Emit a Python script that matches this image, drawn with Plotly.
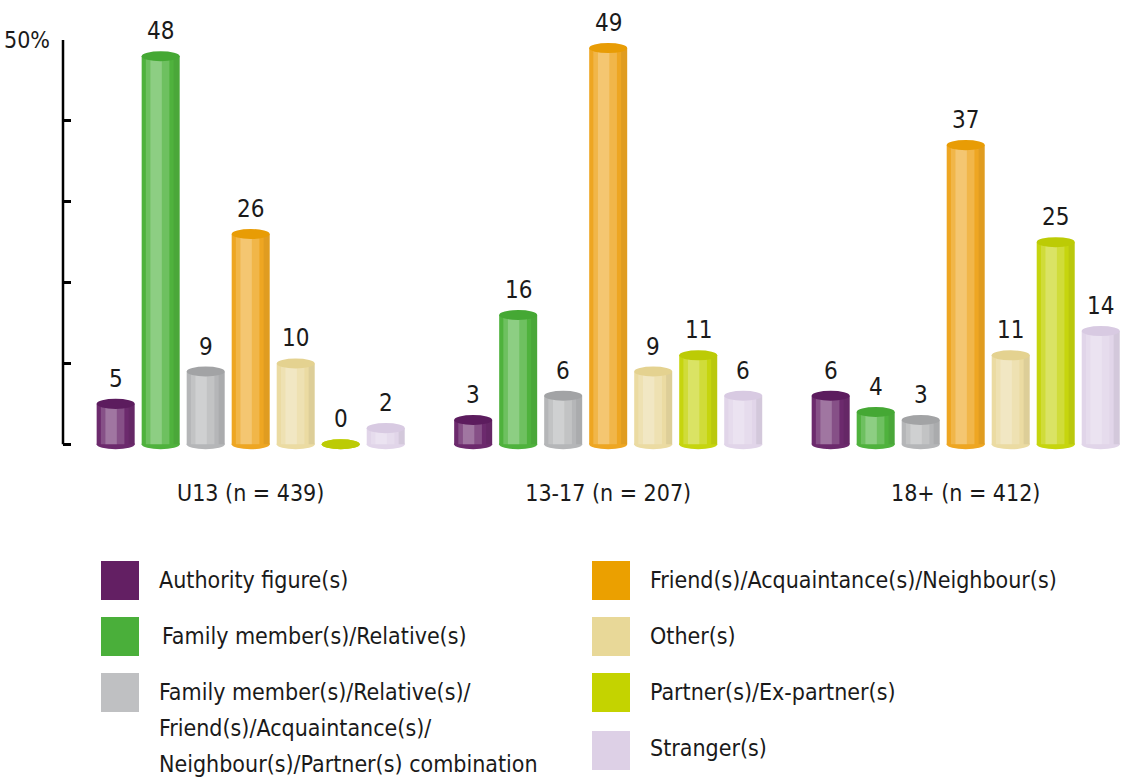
import plotly.graph_objects as go

# ---------------- data ----------------
groups = ["U13 (n = 439)", "13-17 (n = 207)", "18+ (n = 412)"]
series = [
    "Authority figure(s)",
    "Family member(s)/Relative(s)",
    "Family member(s)/Relative(s)/<br>Friend(s)/Acquaintance(s)/<br>Neighbour(s)/Partner(s) combination",
    "Friend(s)/Acquaintance(s)/Neighbour(s)",
    "Other(s)",
    "Partner(s)/Ex-partner(s)",
    "Stranger(s)",
]
authority = [5, 3, 6]
family = [48, 16, 4]
combination = [9, 6, 3]
friend = [26, 49, 37]
other = [10, 9, 11]
partner = [0, 11, 25]
stranger = [2, 6, 14]
values = [authority, family, combination, friend, other, partner, stranger]

y_tickvals = [0, 10, 20, 30, 40, 50]
y_ticktext = ["", "", "", "", "", "50%"]

# ---------------- style ----------------
body_colors = ["#6c2a6d", "#4fb23d", "#b5b6b8", "#eea622", "#ebdba2", "#c6d50e", "#e1d5e9"]
top_colors = ["#5c1c5e", "#45a834", "#a2a3a5", "#e89c05", "#e4d290", "#bccb05", "#d8cae2"]
swatch_colors = ["#631f63", "#4aaf3a", "#bfc0c2", "#eba000", "#e8d898", "#c4d300", "#ddd0e6"]

FONT = "DejaVu Sans Condensed, Open Sans, sans-serif"
TXT = "#1a1a1a"
W, H = 1129, 781
ML, MR, MT, MB = 63, 4, 40, 327
PW = W - ML - MR
PH = H - MT - MB

n = len(series)
pitch = 0.1259
bw = 0.1063
ell = 0.62  # half-height of ellipse caps, in data units

fig = go.Figure()
shapes = []
annotations = []

for i, (name, vals) in enumerate(zip(series, values)):
    off = (i - (n - 1) / 2) * pitch
    xs = [g + off for g in range(len(groups))]
    fig.add_trace(go.Bar(
        x=xs, y=vals, width=bw, name=name.replace("<br>", ""),
        marker=dict(color=body_colors[i], line=dict(width=0)),
        showlegend=False, hoverinfo="y",
    ))
    # soft highlight strips to give a cylinder look
    fig.add_trace(go.Bar(
        x=[x - 0.08 * bw for x in xs], y=vals, width=bw * 0.62,
        marker=dict(color="rgba(255,255,255,0.18)", line=dict(width=0)),
        showlegend=False, hoverinfo="skip",
    ))
    fig.add_trace(go.Bar(
        x=[x - 0.12 * bw for x in xs], y=vals, width=bw * 0.30,
        marker=dict(color="rgba(255,255,255,0.22)", line=dict(width=0)),
        showlegend=False, hoverinfo="skip",
    ))
    fig.add_trace(go.Bar(
        x=[x + 0.42 * bw for x in xs], y=vals, width=bw * 0.16,
        marker=dict(color="rgba(0,0,0,0.06)", line=dict(width=0)),
        showlegend=False, hoverinfo="skip",
    ))
    for x, v in zip(xs, vals):
        # bottom cap
        shapes.append(dict(type="circle", xref="x", yref="y", layer="below",
                           x0=x - bw / 2, x1=x + bw / 2, y0=-ell, y1=ell,
                           fillcolor=body_colors[i], line=dict(width=0)))
        # top cap
        shapes.append(dict(type="circle", xref="x", yref="y",
                           x0=x - bw / 2, x1=x + bw / 2, y0=v - ell, y1=v + ell,
                           fillcolor=top_colors[i], line=dict(width=0)))
        annotations.append(dict(x=x, y=v, xref="x", yref="y", text=str(v),
                                showarrow=False, yanchor="bottom", yshift=9,
                                font=dict(family=FONT, size=24, color=TXT)))

# y axis line (0 to 50)
shapes.append(dict(type="line", xref="paper", yref="y", x0=0, x1=0, y0=0, y1=50,
                   line=dict(color="black", width=2.5)))


def px(xp):
    return (xp - ML) / PW


def py(yp):
    return (H - MB - yp) / PH


# legend built manually
legend_items = [
    # (series index, swatch x-left, swatch y-top, text x, text lines y)
    (0, 101, 561, 157, [580]),
    (1, 101, 617, 160, [636]),
    (2, 101, 673, 157, [692, 728, 764]),
    (3, 592, 561, 648, [580]),
    (4, 592, 617, 648, [636]),
    (5, 592, 673, 648, [692]),
    (6, 592, 731, 648, [748]),
]
for idx, sx, sy, tx, tys in legend_items:
    shapes.append(dict(type="rect", xref="paper", yref="paper",
                       x0=px(sx), x1=px(sx + 38), y0=py(sy + 39), y1=py(sy),
                       fillcolor=swatch_colors[idx], line=dict(width=0)))
    lines = series[idx].split("<br>")
    for line, ty in zip(lines, tys):
        annotations.append(dict(x=px(tx), y=py(ty), xref="paper", yref="paper",
                                text=line, showarrow=False, xanchor="left",
                                yanchor="middle",
                                font=dict(family=FONT, size=23, color=TXT)))

fig.update_layout(
    width=W, height=H, autosize=False,
    margin=dict(l=ML, r=MR, t=MT, b=MB),
    barmode="overlay",
    plot_bgcolor="white", paper_bgcolor="white",
    font=dict(family=FONT, size=23, color=TXT),
    xaxis=dict(range=[-0.525, 2.4456], tickvals=list(range(len(groups))),
               ticktext=groups, showgrid=False, zeroline=False, showline=False,
               ticks="", ticklabelstandoff=23,
               tickfont=dict(family=FONT, size=23, color=TXT)),
    yaxis=dict(range=[-1.2, 50], tickvals=y_tickvals, ticktext=y_ticktext,
               showgrid=False, zeroline=False, showline=False,
               ticks="inside", ticklen=8, tickwidth=2.5, tickcolor="black",
               ticklabelstandoff=12,
               tickfont=dict(family=FONT, size=23, color=TXT)),
    shapes=shapes,
    annotations=annotations,
)

fig.write_html("out.html", config={"displayModeBar": False},
               post_script="document.body.style.margin='0px';"
                           "document.body.style.overflow='hidden';")
